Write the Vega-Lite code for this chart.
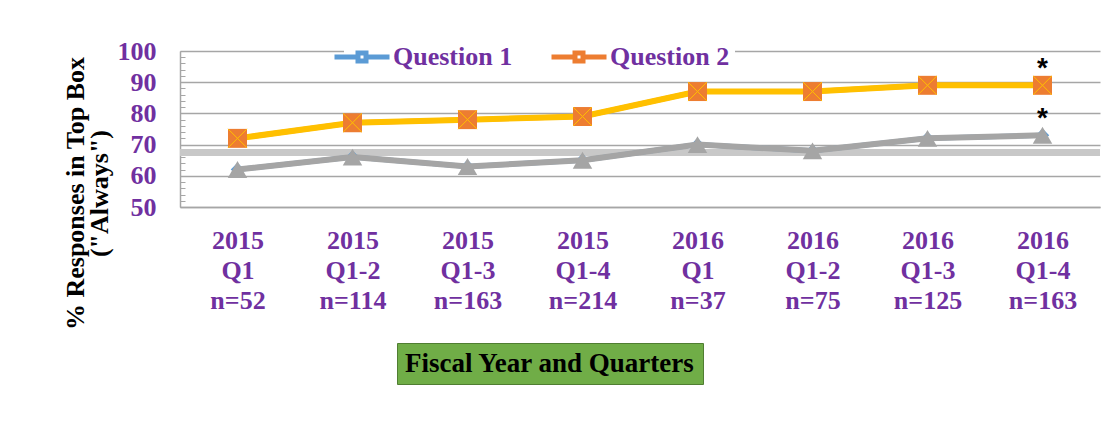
{
  "$schema": "https://vega.github.io/schema/vega-lite/v6.json",
  "width": 920,
  "height": 156,
  "autosize": "none",
  "padding": {"left": 180, "top": 51, "right": 18, "bottom": 237},
  "background": "white",
  "config": {"view": {"stroke": null}, "font": "Liberation Serif"},
  "datasets": {
    "scores": [
      {"period": "2015 Q1 n=52", "series": "Question 1", "value": 62},
      {"period": "2015 Q1-2 n=114", "series": "Question 1", "value": 66},
      {"period": "2015 Q1-3 n=163", "series": "Question 1", "value": 63},
      {"period": "2015 Q1-4 n=214", "series": "Question 1", "value": 65},
      {"period": "2016 Q1 n=37", "series": "Question 1", "value": 70},
      {"period": "2016 Q1-2 n=75", "series": "Question 1", "value": 68},
      {"period": "2016 Q1-3 n=125", "series": "Question 1", "value": 72},
      {"period": "2016 Q1-4 n=163", "series": "Question 1", "value": 73},
      {"period": "2015 Q1 n=52", "series": "Question 2", "value": 72},
      {"period": "2015 Q1-2 n=114", "series": "Question 2", "value": 77},
      {"period": "2015 Q1-3 n=163", "series": "Question 2", "value": 78},
      {"period": "2015 Q1-4 n=214", "series": "Question 2", "value": 79},
      {"period": "2016 Q1 n=37", "series": "Question 2", "value": 87},
      {"period": "2016 Q1-2 n=75", "series": "Question 2", "value": 87},
      {"period": "2016 Q1-3 n=125", "series": "Question 2", "value": 89},
      {"period": "2016 Q1-4 n=163", "series": "Question 2", "value": 89}
    ],
    "notes": [
      {"period": "2016 Q1-4 n=163", "series": "Question 1", "value": 73, "note": "*"},
      {"period": "2016 Q1-4 n=163", "series": "Question 2", "value": 89, "note": "*"}
    ],
    "benchmark": [{"value": 67.5}]
  },
  "encoding": {
    "y": {
      "field": "value", "type": "quantitative",
      "scale": {"domain": [50, 100], "nice": false, "zero": false},
      "axis": {
        "values": [50, 52, 54, 56, 58, 60, 62, 64, 66, 68, 70, 72, 74, 76, 78, 80, 82, 84, 86, 88, 90, 92, 94, 96, 98, 100],
        "title": ["% Responses in Top Box", "(\"Always\")"],
        "titleFont": "Liberation Serif", "titleFontSize": 26, "titleFontWeight": "bold",
        "titleColor": "black", "titleAngle": -90, "titleX": -97, "titleY": 142,
        "titleAlign": "center", "titleBaseline": "alphabetic", "titleLineHeight": 24,
        "labelExpr": "datum.value % 10 === 0 ? datum.label : ''",
        "labelFont": "Liberation Serif", "labelFontSize": 26, "labelFontWeight": "bold",
        "labelColor": "#7030a0", "labelPadding": 29, "labelOverlap": false, "labelFlush": false,
        "tickSize": -5, "tickColor": "#a6a6a6", "tickWidth": 1,
        "domainColor": "#a6a6a6", "domainWidth": 1.5,
        "gridColor": "#a6a6a6", "gridWidth": 1.5,
        "gridOpacity": {"condition": {"test": "datum.value % 10 === 0", "value": 1}, "value": 0}
      }
    }
  },
  "layer": [
    {
      "data": {"name": "benchmark"},
      "mark": {"type": "rule", "color": "#c8c8c8", "strokeWidth": 7}
    },
    {
      "data": {"name": "scores"},
      "encoding": {
        "x": {
          "field": "period", "type": "nominal", "sort": null,
          "scale": {"type": "point", "padding": 0.5},
          "axis": {
            "title": null, "labelAngle": 0,
            "labelExpr": "split(datum.label, ' ')",
            "labelFont": "Liberation Serif", "labelFontSize": 26, "labelFontWeight": "bold",
            "labelColor": "#7030a0", "labelLineHeight": 30, "labelBaseline": "top",
            "labelPadding": 20, "labelLimit": 0, "labelOverlap": false,
            "ticks": false, "grid": false,
            "domainColor": "#a6a6a6", "domainWidth": 1.5
          }
        }
      },
      "layer": [
        {
          "mark": {"type": "line", "strokeWidth": 5},
          "encoding": {
            "color": {
              "field": "series", "type": "nominal",
              "scale": {"domain": ["Question 1", "Question 2"], "range": ["#5b9bd5", "#ed7d31"]},
              "legend": {
                "orient": "none", "legendX": 164, "legendY": -12, "direction": "horizontal", "columns": 2,
                "title": null, "fillColor": "white", "padding": 5,
                "symbolType": "M-5.5,0L-0.8,0L-0.8,-0.8L0.8,-0.8L0.8,0L5.5,0L0.8,0L0.8,0.8L-0.8,0.8L-0.8,0Z",
                "symbolSize": 100, "symbolStrokeWidth": 5, "labelOffset": 18, "columnPadding": 28,
                "labelFont": "Liberation Serif", "labelFontSize": 26, "labelFontWeight": "bold",
                "labelColor": "#7030a0", "labelLimit": 0
              }
            }
          }
        },
        {
          "transform": [{"filter": "datum.series === 'Question 1'"}],
          "mark": {"type": "point", "filled": true, "opacity": 1, "shape": "diamond", "size": 180, "color": "#5b9bd5"}
        },
        {
          "transform": [{"filter": "datum.series === 'Question 2'"}],
          "mark": {"type": "line", "strokeWidth": 6, "color": "#ffc000"}
        },
        {
          "transform": [{"filter": "datum.series === 'Question 2'"}],
          "mark": {"type": "point", "filled": true, "opacity": 1, "shape": "square", "size": 360, "color": "#ed7d31"}
        },
        {
          "transform": [{"filter": "datum.series === 'Question 2'"}],
          "mark": {"type": "point", "filled": false, "opacity": 1, "shape": "M-1,-1L1,1M-1,1L1,-1", "size": 360, "color": "#ffc000", "strokeWidth": 1}
        },
        {
          "transform": [{"filter": "datum.series === 'Question 1'"}],
          "mark": {"type": "line", "strokeWidth": 6, "color": "#a5a5a5"}
        },
        {
          "transform": [{"filter": "datum.series === 'Question 1'"}],
          "mark": {"type": "point", "filled": true, "opacity": 1, "shape": "triangle-up", "size": 380, "color": "#a5a5a5"}
        }
      ]
    },
    {
      "data": {"name": "notes"},
      "mark": {"type": "text", "font": "Liberation Sans", "fontSize": 28, "fontWeight": "bold", "color": "black", "baseline": "alphabetic", "dy": -8},
      "encoding": {
        "x": {"field": "period", "type": "nominal", "sort": null},
        "text": {"field": "note"},
        "opacity": {
          "field": "note", "type": "ordinal", "scale": {"range": [1]},
          "legend": {
            "orient": "none", "legendX": 217, "legendY": 292, "title": null,
            "fillColor": "#70ad47", "strokeColor": "#507e32", "padding": 7,
            "symbolOpacity": 0, "symbolSize": 0, "symbolStrokeWidth": 0, "labelOffset": -26,
            "labelExpr": "'Fiscal Year and Quarters'",
            "labelFont": "Liberation Serif", "labelFontSize": 27, "labelFontWeight": "bold",
            "labelColor": "black", "labelLimit": 0,
            "encode": {"legend": {"strokeWidth": {"value": 2}}}
          }
        }
      }
    }
  ]
}
